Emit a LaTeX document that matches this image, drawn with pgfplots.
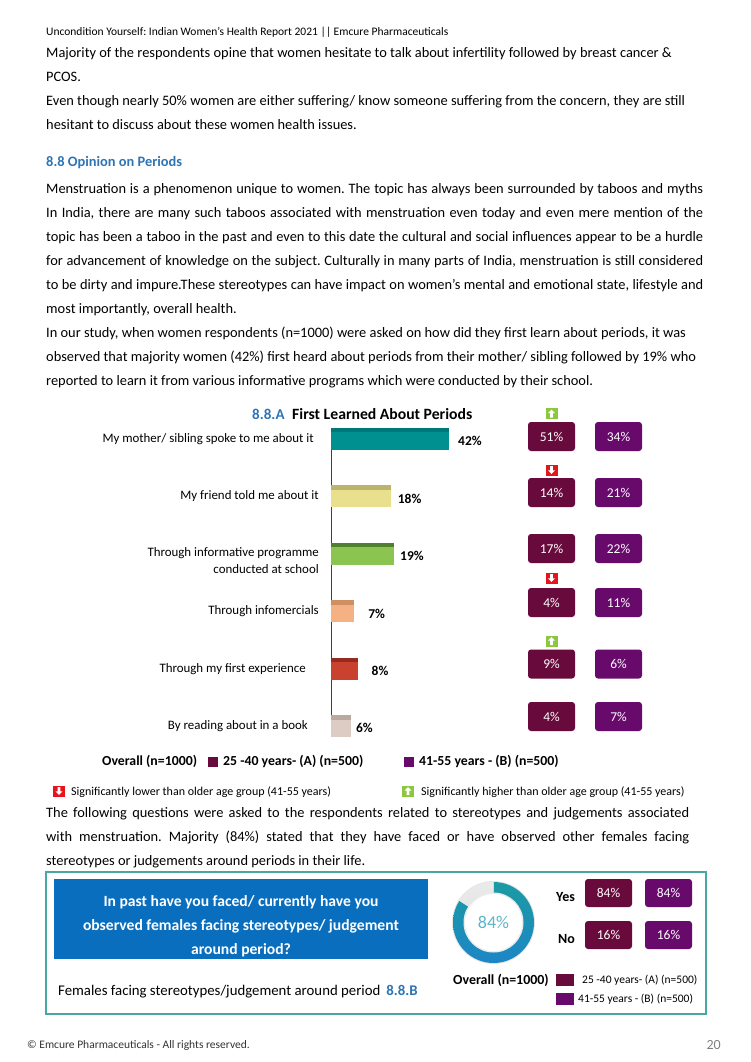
\documentclass[border=0pt]{standalone}
\usepackage{pgfplots}
\pgfplotsset{compat=1.18}
\usepackage{fontspec}
\setmainfont{Carlito}
\frenchspacing

\definecolor{hblue}{HTML}{2E75B6}
\definecolor{c1}{HTML}{009090}\definecolor{c1d}{HTML}{007878}
\definecolor{c2}{HTML}{E8E08C}\definecolor{c2d}{HTML}{BCB46C}
\definecolor{c3}{HTML}{8CC452}\definecolor{c3d}{HTML}{4F7F2F}
\definecolor{c4}{HTML}{F5B183}\definecolor{c4d}{HTML}{CF8F62}
\definecolor{c5}{HTML}{C8422F}\definecolor{c5d}{HTML}{962A1E}
\definecolor{c6}{HTML}{DDCCC3}\definecolor{c6d}{HTML}{BBA89E}
\definecolor{grpA}{HTML}{680A3C}
\definecolor{grpB}{HTML}{680A6C}
\definecolor{sgreen}{HTML}{8DC63F}
\definecolor{sred}{HTML}{E8141B}
\definecolor{qblue}{HTML}{0A6EBE}
\definecolor{framec}{HTML}{47A8A2}
\definecolor{ringT}{HTML}{1B9BA3}
\definecolor{ringB}{HTML}{1C86C6}
\definecolor{ringG}{HTML}{E2E2E2}
\definecolor{pctc}{HTML}{5CB6C8}

% significance icons
\pgfdeclareplotmark{sigup}{%
  \pgfsetfillcolor{sgreen}%
  \pgfpathrectangle{\pgfpoint{-6pt}{-5.5pt}}{\pgfpoint{12pt}{11pt}}\pgfusepath{fill}%
  \pgfsetfillcolor{white}%
  \pgfpathmoveto{\pgfpoint{0pt}{4pt}}\pgfpathlineto{\pgfpoint{3.5pt}{0.3pt}}%
  \pgfpathlineto{\pgfpoint{1.3pt}{0.3pt}}\pgfpathlineto{\pgfpoint{1.3pt}{-4pt}}%
  \pgfpathlineto{\pgfpoint{-1.3pt}{-4pt}}\pgfpathlineto{\pgfpoint{-1.3pt}{0.3pt}}%
  \pgfpathlineto{\pgfpoint{-3.5pt}{0.3pt}}\pgfpathclose\pgfusepath{fill}}
\pgfdeclareplotmark{sigdown}{%
  \pgfsetfillcolor{sred}%
  \pgfpathrectangle{\pgfpoint{-6pt}{-5.5pt}}{\pgfpoint{12pt}{11pt}}\pgfusepath{fill}%
  \pgfsetfillcolor{white}%
  \pgfpathmoveto{\pgfpoint{0pt}{-4pt}}\pgfpathlineto{\pgfpoint{3.5pt}{-0.3pt}}%
  \pgfpathlineto{\pgfpoint{1.3pt}{-0.3pt}}\pgfpathlineto{\pgfpoint{1.3pt}{4pt}}%
  \pgfpathlineto{\pgfpoint{-1.3pt}{4pt}}\pgfpathlineto{\pgfpoint{-1.3pt}{-0.3pt}}%
  \pgfpathlineto{\pgfpoint{-3.5pt}{-0.3pt}}\pgfpathclose\pgfusepath{fill}}

\newcommand\TL[2]{\node[anchor=base west,inner sep=0pt] at (46pt,-#1pt) {#2};}
\newcommand\TJ[3]{\node[anchor=base west,inner sep=0pt] at (46pt,-#1pt) {\makebox[#2pt][s]{#3}};}
\newcommand\body{\fontsize{14.4}{16}\selectfont}

\begin{document}
\begin{tikzpicture}
\path[use as bounding box, fill=white] (0pt,0pt) rectangle (750pt,-1062pt);

% ---------- running text ----------
\node[anchor=base west,inner sep=0pt,font=\fontsize{11.5}{13}\selectfont] at (46pt,-36pt)
  {Uncondition Yourself: Indian Women’s Health Report 2021 || Emcure Pharmaceuticals};
\begin{scope}[font=\body]
\TL{58}{Majority of the respondents opine that women hesitate to talk about infertility followed by breast cancer \&}
\TL{82}{PCOS.}
\TL{106}{Even though nearly 50\% women are either suffering/ know someone suffering from the concern, they are still}
\TL{130}{hesitant to discuss about these women health issues.}
\TL{166}{\textcolor{hblue}{\bfseries 8.8 Opinion on Periods}}
\TJ{193}{657}{Menstruation is a phenomenon unique to women. The topic has always been surrounded by taboos and myths}
\TJ{217}{657}{In India, there are many such taboos associated with menstruation even today and even mere mention of the}
\TJ{241}{657}{topic has been a taboo in the past and even to this date the cultural and social influences appear to be a hurdle}
\TJ{265}{657}{for advancement of knowledge on the subject. Culturally in many parts of India, menstruation is still considered}
\TJ{289}{657}{to be dirty and impure.These stereotypes can have impact on women’s mental and emotional state, lifestyle and}
\TL{313}{most importantly, overall health.}
\TL{337}{In our study, when women respondents (n=1000) were asked on how did they first learn about periods, it was}
\TL{361}{observed that majority women (42\%) first heard about periods from their mother/ sibling followed by 19\% who}
\TL{385}{reported to learn it from various informative programs which were conducted by their school.}
\TJ{817}{643}{The following questions were asked to the respondents related to stereotypes and judgements associated}
\TJ{841}{643}{with menstruation. Majority (84\%) stated that they have faced or have observed other females facing}
\TL{865}{stereotypes or judgements around periods in their life.}
\end{scope}

% ---------- chart 8.8.A ----------
\node[anchor=base west,inner sep=0pt,font=\bfseries\fontsize{15}{17}\selectfont,text=hblue] at (252pt,-419pt) {8.8.A};
\node[anchor=base west,inner sep=0pt,font=\bfseries\fontsize{15.7}{17}\selectfont] at (292pt,-419pt) {First Learned About Periods};

\begin{axis}[
  at={(331pt,-737pt)}, anchor=south west,
  width=118pt, height=309pt, scale only axis,
  xbar, bar shift=0pt,
  xmin=0, xmax=35.6, ymin=0.81, ymax=6.19, y dir=reverse,
  x filter/.expression={min(x,35.6)},
  hide x axis,
  axis y line*=left,
  y axis line style={-, draw=black!75, line width=0.9pt},
  ytick={1,2,4,5,6},
  yticklabels={My mother/ sibling spoke to me about it\rule{5pt}{0pt},
    My friend told me about it, Through infomercials,
    Through my first experience\rule{13pt}{0pt},
    By reading about in a book\rule{11pt}{0pt}},
  extra y ticks={3},
  extra y tick labels={Through informative programme\\conducted at school},
  extra y tick style={yticklabel style={yshift=-7pt}},
  yticklabel style={align=right, inner sep=0pt, xshift=-12pt, font=\fontsize{12.9}{17}\selectfont},
  major tick length=0pt,
  clip=false,
  point meta=explicit,
  /pgf/number format/assume math mode=true,
  lbl/.style={nodes near coords={\pgfmathprintnumber{\pgfplotspointmeta}\%},
    every node near coord/.append style={font=\bfseries\fontsize{13.5}{15}\selectfont,
      anchor=west, inner sep=0pt, xshift=#1}},
  lbl/.default=9pt,
]
\addplot[fill=c1d, draw=none, bar width=22pt] coordinates {(42,1) [42]};
\addplot[fill=c1, draw=none, bar width=17.5pt, bar shift=-2.25pt, lbl] coordinates {(42,1) [42]};
\addplot[fill=c2d, draw=none, bar width=22pt] coordinates {(18,2) [18]};
\addplot[fill=c2, draw=none, bar width=17.5pt, bar shift=-2.25pt, lbl=7pt] coordinates {(18,2) [18]};
\addplot[fill=c3d, draw=none, bar width=22pt] coordinates {(19,3) [19]};
\addplot[fill=c3, draw=none, bar width=17.5pt, bar shift=-2.25pt, lbl=6pt] coordinates {(19,3) [19]};
\addplot[fill=c4d, draw=none, bar width=22pt] coordinates {(7,4) [7]};
\addplot[fill=c4, draw=none, bar width=17.5pt, bar shift=-2.25pt, lbl=14pt] coordinates {(7,4) [7]};
\addplot[fill=c5d, draw=none, bar width=22pt] coordinates {(8,5) [8]};
\addplot[fill=c5, draw=none, bar width=17.5pt, bar shift=-2.25pt, lbl=14pt] coordinates {(8,5) [8]};
\addplot[fill=c6d, draw=none, bar width=22pt] coordinates {(6,6) [6]};
\addplot[fill=c6, draw=none, bar width=17.5pt, bar shift=-2.25pt, lbl=5pt] coordinates {(6,6) [6]};
\end{axis}

% age group boxes (rows laid out in page pixels)
\begin{axis}[
  at={(518pt,-750pt)}, anchor=south west,
  width=134pt, height=350pt, scale only axis,
  xmin=0.5, xmax=2.5, ymin=400, ymax=750, y dir=reverse,
  hide axis, clip=false,
  /pgf/number format/assume math mode=true,
  box/.style={draw=none, point meta=explicit,
    nodes near coords={\pgfmathprintnumber{\pgfplotspointmeta}\%},
    every node near coord/.append style={anchor=center, rounded corners=3pt,
      minimum width=47pt, minimum height=29pt, inner sep=0pt, text=white,
      font=\fontsize{13.5}{15}\selectfont, fill=#1}},
]
\addplot[box=grpA] coordinates {
  (1,436.5) [51] (1,492.5) [14] (1,548.5) [17] (1,602.5) [4] (1,664) [9] (1,716.5) [4]};
\addplot[box=grpB] coordinates {
  (2,436.5) [34] (2,492.5) [21] (2,548.5) [22] (2,602.5) [11] (2,664) [6] (2,716.5) [7]};
\addplot[only marks, mark=sigup] coordinates {(1,413.5) (1,641)};
\addplot[only marks, mark=sigdown] coordinates {(1,470) (1,578)};
\end{axis}

% legend of chart A
\begin{scope}[font=\bfseries\fontsize{13.8}{16}\selectfont]
\node[anchor=base west,inner sep=0pt] at (102pt,-765pt) {Overall (n=1000)};
\fill[grpA] (208pt,-757pt) rectangle (218pt,-767pt);
\node[anchor=base west,inner sep=0pt] at (223pt,-765pt) {25 -40 years- (A) (n=500)};
\fill[grpB] (404pt,-757pt) rectangle (414pt,-767pt);
\node[anchor=base west,inner sep=0pt] at (419pt,-765pt) {41-55 years - (B) (n=500)};
\end{scope}
\begin{scope}[font=\fontsize{12}{13}\selectfont]
\begin{scope}[shift={(59pt,-791pt)}]\pgfuseplotmark{sigdown}\end{scope}
\node[anchor=base west,inner sep=0pt] at (71pt,-795pt) {Significantly lower than older age group (41-55 years)};
\begin{scope}[shift={(408pt,-791pt)}]\pgfuseplotmark{sigup}\end{scope}
\node[anchor=base west,inner sep=0pt] at (421pt,-795pt) {Significantly higher than older age group (41-55 years)};
\end{scope}

% ---------- box 8.8.B ----------
\draw[framec, line width=1.2pt] (46pt,-872pt) rectangle (706pt,-1014pt);
\fill[qblue] (54pt,-879pt) rectangle (428pt,-959pt);
\begin{scope}[font=\bfseries\fontsize{15.6}{17}\selectfont, text=white]
\node[anchor=base,inner sep=0pt] at (241pt,-906pt) {In past have you faced/ currently have you};
\node[anchor=base,inner sep=0pt] at (241pt,-930pt) {observed females facing stereotypes/ judgement};
\node[anchor=base,inner sep=0pt] at (241pt,-954pt) {around period?};
\end{scope}
\node[anchor=base west,inner sep=0pt,font=\fontsize{14.8}{16}\selectfont] at (58pt,-995pt)
  {Females facing stereotypes/judgement around period\hspace{6pt}\textcolor{hblue}{\bfseries 8.8.B}};

% donut: 84% yes, 16% no
\def\yesval{84}
\pgfmathsetmacro\yesend{90-3.6*\yesval}
\coordinate (dc) at (493.5pt,-922.5pt);
\fill[black!10] (dc) circle (41.5pt);
\shade[top color=ringT, bottom color=ringB]
  (dc) ++(90:40.5pt) arc[start angle=90, end angle=\yesend, radius=40.5pt]
  -- ++(\yesend:-11pt) arc[start angle=\yesend, end angle=90, radius=29.5pt] -- cycle;
\shade[top color=ringG!70, bottom color=ringG]
  (dc) ++(90:40.5pt) arc[start angle=90, end angle=\yesend+360, radius=40.5pt]
  -- ++(\yesend:-11pt) arc[start angle=\yesend+360, end angle=90, radius=29.5pt] -- cycle;
\fill[black!8] (dc) circle (30pt);
\fill[white] (dc) circle (28.5pt);
\node[text=pctc, font=\fontsize{18}{20}\selectfont] at (dc) {84\%};

\node[anchor=base west,inner sep=0pt,font=\bfseries\fontsize{14}{16}\selectfont] at (556pt,-901pt) {Yes};
\node[anchor=base west,inner sep=0pt,font=\bfseries\fontsize{14}{16}\selectfont] at (558pt,-943pt) {No};

\begin{axis}[
  at={(578.5pt,-960pt)}, anchor=south west,
  width=120pt, height=90pt, scale only axis,
  xmin=0.5, xmax=2.5, ymin=870, ymax=960, y dir=reverse,
  hide axis, clip=false,
  /pgf/number format/assume math mode=true,
  box/.style={draw=none, point meta=explicit,
    nodes near coords={\pgfmathprintnumber{\pgfplotspointmeta}\%},
    every node near coord/.append style={anchor=center, rounded corners=3pt,
      minimum width=47pt, minimum height=28pt, inner sep=0pt, text=white,
      font=\fontsize{13.5}{15}\selectfont, fill=#1}},
]
\addplot[box=grpA] coordinates {(1,893) [84] (1,935) [16]};
\addplot[box=grpB] coordinates {(2,893) [84] (2,935) [16]};
\end{axis}

\node[anchor=base west,inner sep=0pt,font=\bfseries\fontsize{13.9}{16}\selectfont] at (453pt,-984pt) {Overall (n=1000)};
\fill[grpA] (556pt,-974pt) rectangle (574pt,-986pt);
\fill[grpB] (556pt,-993pt) rectangle (574pt,-1005pt);
\begin{scope}[font=\fontsize{11.5}{12}\selectfont]
\node[anchor=base west,inner sep=0pt] at (582pt,-983pt) {25 -40 years- (A) (n=500)};
\node[anchor=base west,inner sep=0pt] at (578pt,-1002pt) {41-55 years - (B) (n=500)};
\end{scope}

% ---------- footer ----------
\node[anchor=base west,inner sep=0pt,font=\fontsize{11.5}{12}\selectfont,text=black!80] at (27pt,-1048pt)
  {© Emcure Pharmaceuticals - All rights reserved.};
\node[anchor=base east,inner sep=0pt,font=\fontsize{14}{16}\selectfont,text=black!50] at (721pt,-1049pt) {20};
\end{tikzpicture}
\end{document}
